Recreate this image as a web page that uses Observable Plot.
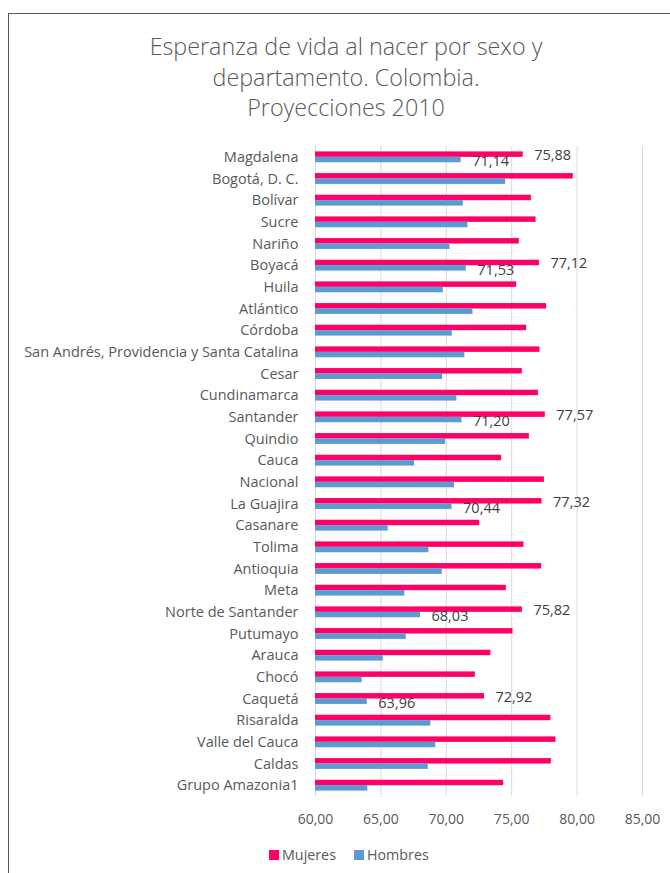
<!DOCTYPE html>
<html>
<head>
<meta charset="utf-8">
<script src="https://cdn.jsdelivr.net/npm/d3@7"></script>
<script src="https://cdn.jsdelivr.net/npm/@observablehq/plot@0.6"></script>
<style>
  html, body { margin: 0; padding: 0; width: 670px; height: 873px; overflow: hidden; background: #fff; font-family: "Open Sans", Lato, sans-serif; }
  #frame { position: absolute; left: 8px; top: 13px; width: 720px; height: 920px; border: 1.5px solid #595959; box-sizing: border-box; }
  #title { position: absolute; left: 0; top: 31px; width: 692px; text-align: center; font-size: 23.3px; font-weight: 300; line-height: 30.5px; color: #595959; }
  #chart { position: absolute; left: 0; top: 136px; }
  #legend { position: absolute; left: 269px; top: 845px; display: flex; align-items: center; font-size: 14.3px; color: #595959; }
  #legend .item { display: flex; align-items: center; margin-right: 18px; }
  #legend .sw { width: 10px; height: 10px; margin-right: 3px; }
</style>
</head>
<body>
<div id="frame"></div>
<div id="title">Esperanza de vida al nacer por sexo y<br>departamento. Colombia.<br>Proyecciones 2010</div>
<div id="chart"></div>
<div id="legend"></div>
<script>
const departamentos = ["Magdalena", "Bogotá, D. C.", "Bolívar", "Sucre", "Nariño", "Boyacá", "Huila", "Atlántico", "Córdoba", "San Andrés, Providencia y Santa Catalina", "Cesar", "Cundinamarca", "Santander", "Quindio", "Cauca", "Nacional", "La Guajira", "Casanare", "Tolima", "Antioquia", "Meta", "Norte de Santander", "Putumayo", "Arauca", "Chocó", "Caquetá", "Risaralda", "Valle del Cauca", "Caldas", "Grupo Amazonia1"];
const mujeres = [75.88, 79.71, 76.50, 76.86, 75.58, 77.12, 75.38, 77.67, 76.14, 77.16, 75.81, 77.04, 77.57, 76.35, 74.23, 77.50, 77.32, 72.55, 75.94, 77.29, 74.59, 75.82, 75.10, 73.41, 72.22, 72.92, 78.00, 78.39, 78.03, 74.38];
const hombres = [71.14, 74.54, 71.30, 71.66, 70.28, 71.53, 69.77, 72.04, 70.46, 71.42, 69.72, 70.81, 71.20, 69.95, 67.57, 70.63, 70.44, 65.56, 68.67, 69.69, 66.83, 68.03, 66.94, 65.18, 63.57, 63.96, 68.82, 69.20, 68.62, 64.00];
const series = ["Mujeres", "Hombres"];
const colores = ["#FF0066", "#5B9BD5"];
const ticksX = [60, 65, 70, 75, 80, 85];
const etiquetados = ["Magdalena", "Boyacá", "Santander", "La Guajira", "Norte de Santander", "Caquetá"];

const fmt = d => d.toFixed(2).replace(".", ",");
const filasM = departamentos.map((dep, i) => ({dep, sexo: series[0], valor: mujeres[i]}));
const filasH = departamentos.map((dep, i) => ({dep, sexo: series[1], valor: hombres[i]}));

const chart = Plot.plot({
  width: 670,
  height: 700,
  marginTop: 10,
  marginBottom: 40,
  marginLeft: 315,
  marginRight: 28,
  style: {fontFamily: "'Open Sans', Lato, sans-serif", fontSize: "14px", color: "#595959", background: "transparent", overflow: "visible"},
  x: {domain: [60, 85], ticks: ticksX, tickFormat: fmt, tickSize: 0, tickPadding: 18, label: null},
  y: {domain: departamentos, padding: 0, round: false, label: null, tickSize: 0, tickPadding: 17},
  color: {domain: series, range: colores},
  marks: [
    Plot.gridX(ticksX, {stroke: "#d9d9d9", strokeOpacity: 1, strokeWidth: 1}),
    Plot.barX(filasM, {y: "dep", x1: 60, x2: "valor", fill: "sexo", insetTop: 5.4, insetBottom: 10.8}),
    Plot.barX(filasH, {y: "dep", x1: 60, x2: "valor", fill: "sexo", insetTop: 10.8, insetBottom: 5.4}),
    Plot.text(filasM.filter(d => etiquetados.includes(d.dep)), {y: "dep", x: "valor", text: d => fmt(d.valor), textAnchor: "start", dx: 11, dy: -2, fontSize: 14.5, fill: "#404040"}),
    Plot.text(filasH.filter(d => etiquetados.includes(d.dep)), {y: "dep", x: "valor", text: d => fmt(d.valor), textAnchor: "start", dx: 11, dy: 4.5, fontSize: 14.5, fill: "#404040"}),
    Plot.axisY({tickSize: 0, tickPadding: 17, fontSize: 14.5})
  ]
});
document.getElementById("chart").appendChild(chart);

const legend = document.getElementById("legend");
series.forEach((s, i) => {
  const item = document.createElement("div");
  item.className = "item";
  const sw = document.createElement("span");
  sw.className = "sw";
  sw.style.background = colores[i];
  const lab = document.createElement("span");
  lab.textContent = s;
  item.appendChild(sw);
  item.appendChild(lab);
  legend.appendChild(item);
});
</script>
</body>
</html>
